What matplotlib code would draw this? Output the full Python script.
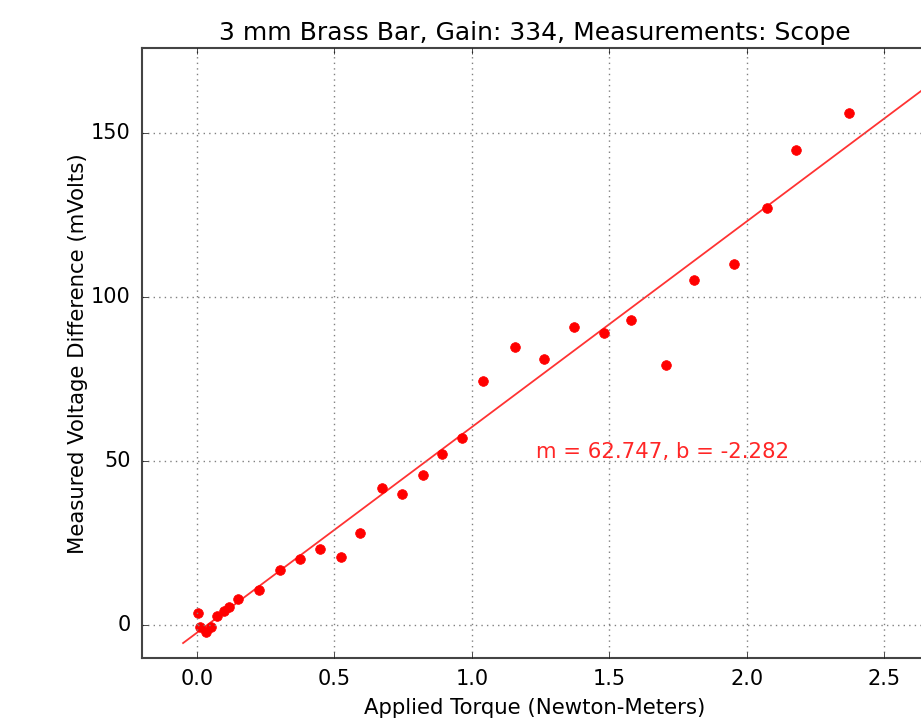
import numpy as np
from matplotlib import pyplot as plt

plt.style.use('classic')

torque = np.array([0.005, 0.012, 0.033, 0.051, 0.075, 0.099, 0.117, 0.148, 0.226,
                   0.302, 0.374, 0.447, 0.523, 0.593, 0.673, 0.745, 0.822, 0.891,
                   0.963, 1.04, 1.156, 1.262, 1.37, 1.48, 1.58, 1.705, 1.806,
                   1.955, 2.075, 2.18, 2.37])
voltage = np.array([3.9, -0.5, -2.0, -0.5, 2.8, 4.4, 5.6, 7.9, 10.7,
                    16.8, 20.1, 23.2, 20.7, 28.0, 41.8, 39.9, 45.7, 52.1,
                    57.0, 74.4, 84.8, 81.1, 90.9, 89.0, 93.0, 79.3, 105.2,
                    110.1, 127.4, 145.1, 156.4])
m = 62.747
b = -2.282

fig = plt.figure(figsize=(9.21, 7.2), dpi=100, facecolor='white')
ax = fig.add_axes([0.154, 0.086, 0.854, 0.847])

fit_x = np.linspace(-0.05, 2.7, 100)
ax.plot(fit_x, m * fit_x + b, color="red", linewidth=1.3, alpha=0.8)
ax.plot(torque, voltage, 'o', color="red", markeredgecolor="red", markersize=7)
ax.text(1.233, 53, "m = %.3f, b = %.3f" % (m, b), color="red", fontsize=15.3,
        ha="left", va="center", alpha=0.85)

ax.set_xlim(-0.2, 2.66)
ax.set_ylim(-10, 176)
ax.set_xticks([0.0, 0.5, 1.0, 1.5, 2.0, 2.5])
ax.set_yticks([0, 50, 100, 150])
ax.grid(True, color="gray", linestyle=":", linewidth=1)
ax.tick_params(labelsize=15, pad=8)
ax.set_title("3 mm Brass Bar, Gain: 334, Measurements: Scope", fontsize=18, pad=6)
ax.set_xlabel("Applied Torque (Newton-Meters)", fontsize=15.3, labelpad=6)
ax.set_ylabel("Measured Voltage Difference (mVolts)", fontsize=15.3, labelpad=2)
for s in ax.spines.values():
    s.set_linewidth(1.5)
    s.set_color("#444444")

plt.savefig("out.png", dpi=100, facecolor='white')
